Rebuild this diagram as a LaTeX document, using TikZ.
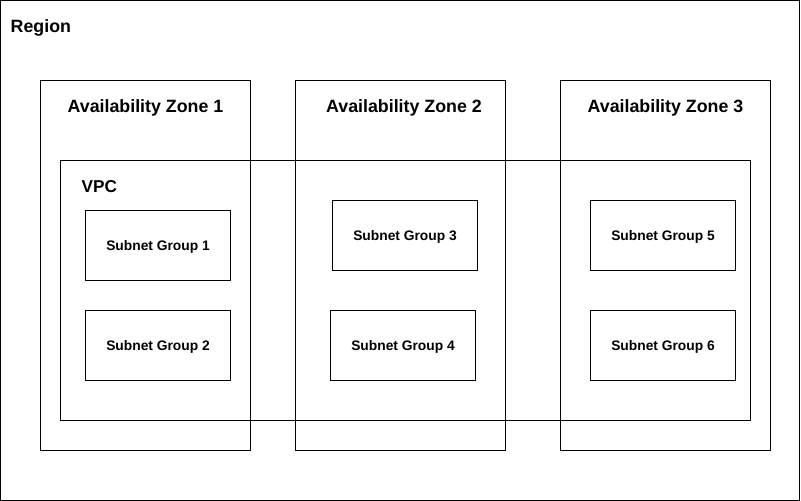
\documentclass[tikz,border=0pt]{standalone}
\usepackage{fontspec}
\setmainfont{Liberation Sans}
\begin{document}
\begin{tikzpicture}[x=1bp,y=-1bp,
  box/.style={draw=black,line width=1bp,inner sep=0pt,outer sep=0pt,anchor=north west},
  bigtitle/.style={font=\fontsize{17.8bp}{20bp}\selectfont\bfseries,inner sep=0pt},
  subnet/.style={box,font=\fontsize{13.8bp}{16bp}\selectfont\bfseries,
    minimum width=145bp,minimum height=70bp,text height=9.9bp,text depth=0pt,align=center}]
\useasboundingbox (0,0) rectangle (801,501);
% region
\node[box,minimum width=799bp,minimum height=500bp] (region) at (0.5,0.5) {};
\node[bigtitle,anchor=base west] (regionlbl) at (10.5,32.3) {Region};
% availability zones
\node[box,minimum width=210bp,minimum height=370bp] (az1) at (40.5,80.5) {};
\node[box,minimum width=210bp,minimum height=370bp] (az2) at (295.5,80.5) {};
\node[box,minimum width=210bp,minimum height=370bp] (az3) at (560.5,80.5) {};
\node[bigtitle,anchor=base] (az1lbl) at (145.5,112.3) {Availability Zone 1};
\node[bigtitle,anchor=base] (az2lbl) at (404,112.3) {Availability Zone 2};
\node[bigtitle,anchor=base] (az3lbl) at (665.5,112.3) {Availability Zone 3};
% VPC
\node[box,minimum width=690bp,minimum height=260bp] (vpc) at (60.5,160.5) {};
\node[bigtitle,anchor=base west,font=\fontsize{17.2bp}{20bp}\selectfont\bfseries] (vpclbl) at (81.5,192.3) {VPC};
% subnets
\node[subnet] (sg1) at (85.5,210.5) {Subnet Group 1};
\node[subnet] (sg2) at (85.5,310.5) {Subnet Group 2};
\node[subnet] (sg3) at (332.5,200.5) {Subnet Group 3};
\node[subnet] (sg4) at (330.5,310.5) {Subnet Group 4};
\node[subnet] (sg5) at (590.5,200.5) {Subnet Group 5};
\node[subnet] (sg6) at (590.5,310.5) {Subnet Group 6};
\end{tikzpicture}
\end{document}
